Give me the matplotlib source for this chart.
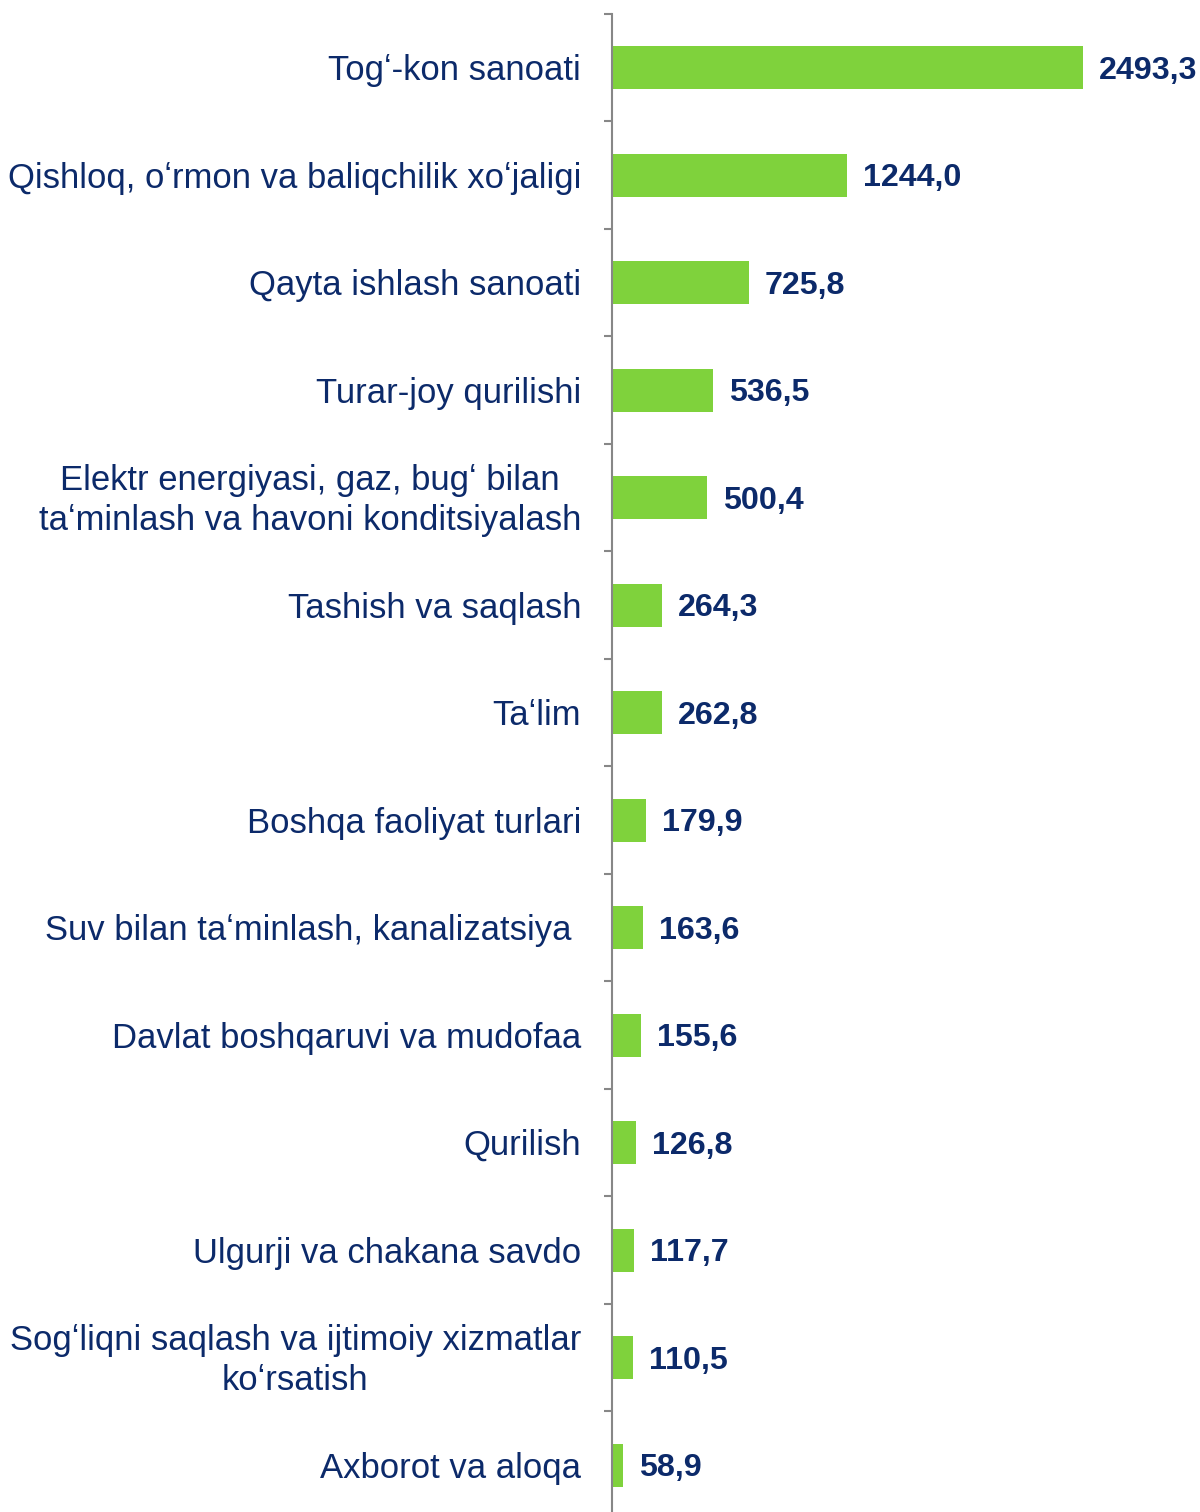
import matplotlib
matplotlib.use("Agg")
import matplotlib.pyplot as plt
import numpy as np

categories = [
    "Togʻ-kon sanoati",
    "Qishloq, oʻrmon va baliqchilik xoʻjaligi",
    "Qayta ishlash sanoati",
    "Turar-joy qurilishi",
    "Elektr energiyasi, gaz, bugʻ bilan\ntaʻminlash va havoni konditsiyalash",
    "Tashish va saqlash",
    "Taʻlim",
    "Boshqa faoliyat turlari",
    "Suv bilan taʻminlash, kanalizatsiya ",
    "Davlat boshqaruvi va mudofaa",
    "Qurilish",
    "Ulgurji va chakana savdo",
    "Sogʻliqni saqlash va ijtimoiy xizmatlar\nkoʻrsatish",
    "Axborot va aloqa",
]
values = [2493.3, 1244.0, 725.8, 536.5, 500.4, 264.3, 262.8, 179.9, 163.6, 155.6, 126.8, 117.7, 110.5, 58.9]

NAVY = "#0c2a6a"
GREEN = "#7fd23c"
AXIS = "#878787"
FONT = ["Liberation Sans", "DejaVu Sans"]

W, H = 1200, 1512
fig = plt.figure(figsize=(W / 100, H / 100), dpi=100, facecolor="white")

# axes geometry in pixels
x0 = 612
px_per_unit = 471 / 2493.3
xmax = 3000
top = 13.75
row = 107.5
n = len(categories)
ax = fig.add_axes([x0 / W, 1 - (top + n * row) / H, xmax * px_per_unit / W, n * row / H])

y = np.arange(n)
ax.barh(y, values, height=0.4, color=GREEN, left=0)
ax.set_xlim(0, xmax)
ax.set_ylim(n - 0.5, -0.5)

for yi, v in zip(y, values):
    ax.annotate(f"{v:.1f}".replace(".", ","), (v, yi), xytext=(16, -3), textcoords="offset pixels",
                ha="left", va="center", fontsize=23.2, fontweight="bold", color=NAVY, family=FONT)

for yi, label in zip(y, categories):
    ax.annotate(label, (0, yi), xytext=(-31, -3), textcoords="offset pixels",
                ha="right", va="center", multialignment="center", fontsize=24.9,
                color=NAVY, family=FONT, linespacing=1.25)

for s in ["top", "right", "bottom"]:
    ax.spines[s].set_visible(False)
ax.spines["left"].set_color(AXIS)
ax.spines["left"].set_linewidth(1.5)
ax.set_xticks([])
ax.set_yticks([])
ax.set_yticks(np.arange(n + 1) - 0.5, minor=True)
ax.tick_params(axis="y", which="minor", length=6, width=1.5, color=AXIS, direction="out")

fig.savefig("out.png", dpi=100)
